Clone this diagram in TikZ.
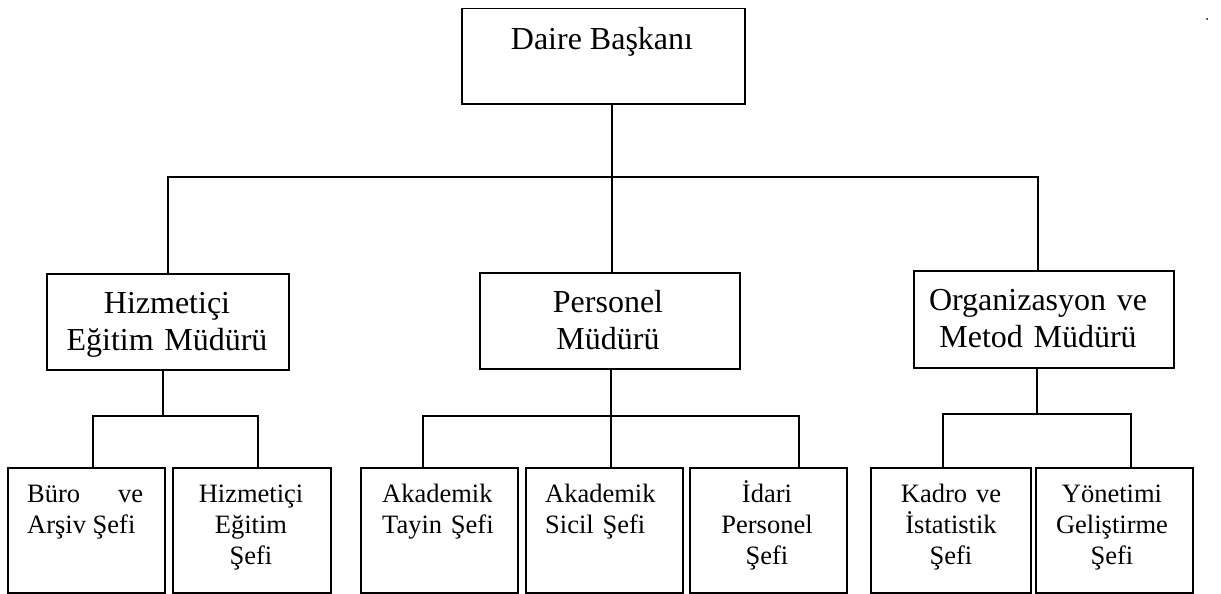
\documentclass[tikz,border=0pt]{standalone}
\usepackage{fontspec}
\setmainfont{Liberation Serif}
\begin{document}
\begin{tikzpicture}[x=1pt,y=-1pt,
  box/.style={draw, line width=1.5pt, rectangle, inner sep=0pt, anchor=north west},
  big/.style={font=\fontsize{32}{37}\selectfont, inner sep=0pt, anchor=base},
  small/.style={font=\fontsize{26.5}{31}\selectfont, inner sep=0pt, anchor=base},
  conn/.style={line width=1.5pt}]
\useasboundingbox (0,0) rectangle (1221,594);

% boxes
\node[box, minimum width=283pt, minimum height=95pt] (top) at (461,8) {};
\node[box, minimum width=242pt, minimum height=96pt] (m1) at (46,273) {};
\node[box, minimum width=260pt, minimum height=96pt] (m2) at (479,272) {};
\node[box, minimum width=260pt, minimum height=97pt] (m3) at (913,270) {};
\node[box, minimum width=157pt, minimum height=125pt] (b1) at (7,467) {};
\node[box, minimum width=158pt, minimum height=125pt] (b2) at (172,467) {};
\node[box, minimum width=157pt, minimum height=125pt] (b3) at (360,467) {};
\node[box, minimum width=157pt, minimum height=125pt] (b4) at (525,467) {};
\node[box, minimum width=157pt, minimum height=125pt] (b5) at (689,467) {};
\node[box, minimum width=160pt, minimum height=125pt] (b6) at (870,467) {};
\node[box, minimum width=157pt, minimum height=125pt] (b7) at (1035,467) {};

% labels
\node[big] (topt) at (602,50) {Daire Başkanı};
\node[big, text width=240pt, align=center] (m1t) at (167,313) {Hizmetiçi\\Eğitim Müdürü};
\node[big, text width=250pt, align=center] (m2t) at (608,312) {Personel\\Müdürü};
\node[big, text width=250pt, align=center] (m3t) at (1038,310) {Organizasyon ve\\Metod Müdürü};

\node[small, anchor=base west] (b1t) at (27,502) {\parbox[t]{116pt}{\hbox to 116pt{Büro\hfill ve}Arşiv Şefi}};
\node[small, text width=150pt, align=center] (b2t) at (251,502) {Hizmetiçi\\Eğitim\\Şefi};
\node[small, anchor=base west, text width=140pt, align=left] (b3t) at (382,502) {Akademik\\Tayin Şefi};
\node[small, anchor=base west, text width=140pt, align=left] (b4t) at (545,502) {Akademik\\Sicil Şefi};
\node[small, text width=150pt, align=center] (b5t) at (767,502) {İdari\\Personel\\Şefi};
\node[small, text width=150pt, align=center] (b6t) at (951,502) {Kadro ve\\İstatistik\\Şefi};
\node[small, text width=150pt, align=center] (b7t) at (1112,502) {Yönetimi\\Geliştirme\\Şefi};

% junction points
\coordinate (j0) at (612,177);
\coordinate (s1) at (163,416);
\coordinate (d1) at (93,416);
\coordinate (d2) at (258,416);
\coordinate (s2) at (611,416);
\coordinate (d3) at (423,416);
\coordinate (d5) at (799,416);
\coordinate (s3) at (1037,414);
\coordinate (d6) at (943,414);
\coordinate (d7) at (1131,414);

% connectors
\draw[conn] (top.south -| j0) -- (j0);
\draw[conn] (m1.north) |- (j0) -| ([xshift=-6pt]m3.north);
\draw[conn] (j0) -- (j0 |- m2.north);

\draw[conn] (m1.south -| s1) -- (s1);
\draw[conn] (d1 |- b1.north) -- (d1) -- (d2) -- (d2 |- b2.north);

\draw[conn] (m2.south -| s2) -- (s2 |- b4.north);
\draw[conn] (d3 |- b3.north) -- (d3) -- (d5) -- (d5 |- b5.north);

\draw[conn] (m3.south -| s3) -- (s3);
\draw[conn] (d6 |- b6.north) -- (d6) -- (d7) -- (d7 |- b7.north);

\fill (1207,19) circle (1pt);
\end{tikzpicture}
\end{document}
